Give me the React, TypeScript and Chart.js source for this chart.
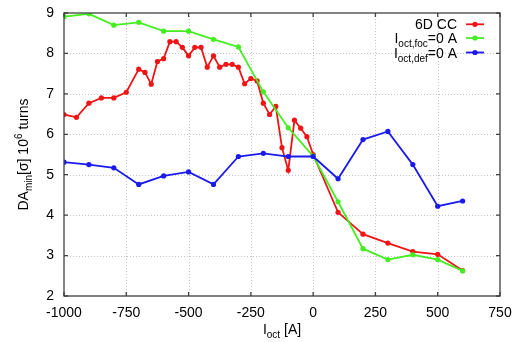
import { useEffect, useRef } from 'react';
import { Chart, registerables } from 'chart.js';

Chart.register(...registerables);

// 6D CC
const ccCurrents = [-1000, -950, -900, -850, -800, -750, -700, -675, -650, -625, -600, -575, -550, -525, -500, -475, -450, -425, -400, -375, -350, -325, -300, -275, -250, -225, -200, -175, -150, -125, -100, -75, -50, -25, 0, 100, 200, 300, 400, 500, 600];
const ccDA = [6.49, 6.42, 6.77, 6.90, 6.90, 7.04, 7.61, 7.53, 7.24, 7.80, 7.87, 8.29, 8.29, 8.15, 7.94, 8.15, 8.15, 7.66, 7.94, 7.66, 7.73, 7.73, 7.66, 7.25, 7.38, 7.32, 6.77, 6.49, 6.69, 5.67, 5.11, 6.35, 6.15, 5.94, 5.50, 4.07, 3.53, 3.31, 3.10, 3.03, 2.63];
// I_oct,foc = 0 A
const focCurrents = [-1000, -900, -800, -700, -600, -500, -400, -300, -200, -100, 0, 100, 200, 300, 400, 500, 600];
const focDA = [8.91, 8.98, 8.70, 8.77, 8.55, 8.55, 8.35, 8.16, 7.05, 6.16, 5.46, 4.33, 3.17, 2.90, 3.02, 2.90, 2.62];
// I_oct,def = 0 A
const defCurrents = [-1000, -900, -800, -700, -600, -500, -400, -300, -200, -100, 0, 100, 200, 300, 400, 500, 600];
const defDA = [5.31, 5.25, 5.17, 4.76, 4.97, 5.07, 4.76, 5.45, 5.53, 5.45, 5.45, 4.90, 5.87, 6.07, 5.25, 4.22, 4.35];

const xTicks = [-1000, -750, -500, -250, 0, 250, 500, 750];
const yTicks = [2, 3, 4, 5, 6, 7, 8, 9];

const RED = '#f01414';
const GREEN = '#44ee22';
const BLUE = '#1a1aee';
const FONT = '"Liberation Sans", Arial, sans-serif';

type Seg = { t: string; s?: 'sub' | 'sup' };

function segFont(s?: 'sub' | 'sup') {
  return s ? `10px ${FONT}` : `14px ${FONT}`;
}

function richWidth(ctx: CanvasRenderingContext2D, segs: Seg[]) {
  let w = 0;
  for (const g of segs) {
    ctx.font = segFont(g.s);
    w += ctx.measureText(g.t).width;
  }
  return w;
}

function drawRich(ctx: CanvasRenderingContext2D, segs: Seg[], x: number, y: number, align: 'left' | 'center' | 'right') {
  const w = richWidth(ctx, segs);
  let cx = align === 'left' ? x : align === 'center' ? x - w / 2 : x - w;
  ctx.textAlign = 'left';
  ctx.textBaseline = 'alphabetic';
  ctx.fillStyle = '#000';
  for (const g of segs) {
    ctx.font = segFont(g.s);
    const dy = g.s === 'sub' ? 4 : g.s === 'sup' ? -6 : 0;
    ctx.fillText(g.t, cx, y + dy);
    cx += ctx.measureText(g.t).width;
  }
}

const decorPlugin = {
  id: 'decor',
  beforeDatasetsDraw(chart: any) {
    const { ctx, chartArea: a, scales } = chart;
    const xs = scales.x;
    const ys = scales.y;
    ctx.save();
    ctx.strokeStyle = '#c4c4c4';
    ctx.lineWidth = 1;
    ctx.setLineDash([1, 2]);
    for (const v of xTicks) {
      if (v === xTicks[0] || v === xTicks[xTicks.length - 1]) continue;
      const px = Math.round(xs.getPixelForValue(v)) + 0.5;
      ctx.beginPath();
      ctx.moveTo(px, a.top);
      ctx.lineTo(px, a.bottom);
      ctx.stroke();
    }
    for (const v of yTicks) {
      if (v === yTicks[0] || v === yTicks[yTicks.length - 1]) continue;
      const py = Math.round(ys.getPixelForValue(v)) + 0.5;
      ctx.beginPath();
      ctx.moveTo(a.left, py);
      ctx.lineTo(a.right, py);
      ctx.stroke();
    }
    ctx.restore();
  },
  afterDraw(chart: any) {
    const { ctx, chartArea: a, scales } = chart;
    const xs = scales.x;
    const ys = scales.y;
    ctx.save();
    // frame
    ctx.strokeStyle = '#404040';
    ctx.lineWidth = 1.3;
    ctx.setLineDash([]);
    ctx.strokeRect(a.left, a.top, a.right - a.left, a.bottom - a.top);
    // inward ticks
    const tl = 4;
    ctx.beginPath();
    for (const v of xTicks) {
      const px = xs.getPixelForValue(v);
      ctx.moveTo(px, a.bottom);
      ctx.lineTo(px, a.bottom - tl);
      ctx.moveTo(px, a.top);
      ctx.lineTo(px, a.top + tl);
    }
    for (const v of yTicks) {
      const py = ys.getPixelForValue(v);
      ctx.moveTo(a.left, py);
      ctx.lineTo(a.left + tl, py);
      ctx.moveTo(a.right, py);
      ctx.lineTo(a.right - tl, py);
    }
    ctx.stroke();

    // axis titles
    const cxm = (a.left + a.right) / 2;
    drawRich(ctx, [{ t: 'I' }, { t: 'oct', s: 'sub' }, { t: ' [A]' }], cxm, 334, 'center');
    ctx.save();
    ctx.translate(28, (a.top + a.bottom) / 2);
    ctx.rotate(-Math.PI / 2);
    drawRich(ctx, [{ t: 'DA' }, { t: 'min', s: 'sub' }, { t: '[σ] 10' }, { t: '6', s: 'sup' }, { t: ' turns' }], 0, 0, 'center');
    ctx.restore();

    // legend
    const rows: { segs: Seg[]; color: string; base: number }[] = [
      { segs: [{ t: '6D CC' }], color: RED, base: 29.3 },
      { segs: [{ t: 'I' }, { t: 'oct,foc', s: 'sub' }, { t: '=0 A' }], color: GREEN, base: 43 },
      { segs: [{ t: 'I' }, { t: 'oct,def', s: 'sub' }, { t: '=0 A' }], color: BLUE, base: 57.5 },
    ];
    for (const r of rows) {
      drawRich(ctx, r.segs, 457, r.base, 'right');
      const ly = r.base - 5;
      ctx.strokeStyle = r.color;
      ctx.lineWidth = 1.8;
      ctx.beginPath();
      ctx.moveTo(466, ly);
      ctx.lineTo(484, ly);
      ctx.stroke();
      ctx.fillStyle = r.color;
      ctx.beginPath();
      ctx.arc(475, ly, 2.6, 0, Math.PI * 2);
      ctx.fill();
    }
    ctx.restore();
  },
};

function toPts(xs: number[], ys: number[]) {
  return xs.map((x, i) => ({ x, y: ys[i] }));
}

export default function App() {
  const ref = useRef<HTMLCanvasElement | null>(null);
  useEffect(() => {
    document.body.style.margin = '0';
    if (!ref.current) return;
    const mk = (label: string, xs: number[], ys: number[], color: string, order: number) => ({
      label,
      data: toPts(xs, ys),
      showLine: true,
      borderColor: color,
      backgroundColor: color,
      borderWidth: 1.8,
      pointRadius: 2.6,
      pointBorderWidth: 0,
      pointBackgroundColor: color,
      tension: 0,
      order,
    });
    const chart = new Chart(ref.current, {
      type: 'scatter',
      data: {
        datasets: [
          mk('6D CC', ccCurrents, ccDA, RED, 3),
          mk('I_oct,foc=0 A', focCurrents, focDA, GREEN, 2),
          mk('I_oct,def=0 A', defCurrents, defDA, BLUE, 1),
        ],
      },
      options: {
        animation: false,
        responsive: true,
        maintainAspectRatio: false,
        layout: { padding: { left: 0, top: 13, right: 18, bottom: 0 } },
        plugins: { legend: { display: false }, tooltip: { enabled: false } },
        scales: {
          x: {
            type: 'linear',
            min: -1000,
            max: 750,
            afterFit: (s: any) => { s.height = 46; s.paddingLeft = 0; s.paddingRight = 0; },
            afterBuildTicks: (s: any) => { s.ticks = xTicks.map((v) => ({ value: v })); },
            ticks: { color: '#000', font: { family: FONT, size: 14 }, padding: 9, maxRotation: 0, autoSkip: false, callback: (v: any) => String(v) },
            grid: { display: false, drawTicks: false },
            border: { display: false },
          },
          y: {
            type: 'linear',
            min: 2,
            max: 9,
            afterFit: (s: any) => { s.width = 64; s.paddingTop = 0; s.paddingBottom = 0; },
            afterBuildTicks: (s: any) => { s.ticks = yTicks.map((v) => ({ value: v })); },
            ticks: { color: '#000', font: { family: FONT, size: 14 }, padding: 10, autoSkip: false, callback: (v: any) => String(v) },
            grid: { display: false, drawTicks: false },
            border: { display: false },
          },
        },
      },
      plugins: [decorPlugin],
    } as any);
    return () => chart.destroy();
  }, []);
  return (
    <div style={{ width: 518, height: 342, position: 'relative' }}>
      <canvas ref={ref} />
    </div>
  );
}
